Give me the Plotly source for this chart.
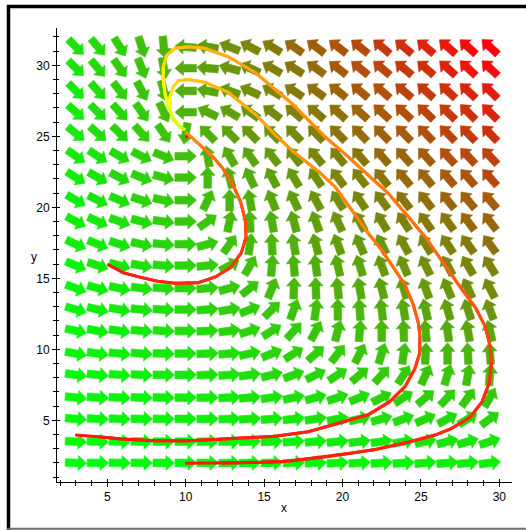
import math
import colorsys
import plotly.graph_objects as go

# ---------------- data ----------------
# arrow grid (centres)
x_cols = [3.0, 4.4, 5.8, 7.2, 8.6, 10.0, 11.4, 12.8, 14.1, 15.5,
          16.9, 18.3, 19.7, 21.1, 22.5, 23.9, 25.3, 26.7, 28.0, 29.4]
y_rows = [2.0, 3.5, 5.1, 6.6, 8.2, 9.7, 11.3, 12.8, 14.3, 15.9,
          17.4, 19.0, 20.5, 22.1, 23.6, 25.2, 26.7, 28.2, 29.8, 31.3]

# arrow directions (degrees on screen, 0 = right, 90 = up), one list per row
ang_r19 = [-45, -50, -58, -72, -85, 175, 170, 158, 152, 148, 145, 143, 142, 141, 140, 140, 140, 139, 138, 137]
ang_r18 = [-45, -50, -55, -68, -80, 180, 175, 165, 155, 150, 147, 144, 142, 141, 140, 140, 139, 138, 137, 137]
ang_r17 = [-45, -48, -52, -62, -75, 180, 170, 160, 155, 150, 146, 143, 141, 140, 139, 139, 138, 137, 137, 136]
ang_r16 = [-42, -45, -48, -55, -65, 180, 155, 150, 145, 143, 140, 139, 138, 138, 137, 137, 136, 136, 135, 135]
ang_r15 = [-40, -42, -45, -48, -55, -100, 135, 135, 135, 135, 134, 134, 134, 134, 134, 134, 134, 134, 134, 134]
ang_r14 = [-35, -33, -30, -27, -22, 0, 100, 120, 125, 128, 128, 130, 130, 131, 131, 132, 132, 133, 133, 133]
ang_r13 = [-32, -30, -27, -22, -15, 0, 90, 105, 115, 118, 120, 124, 127, 128, 129, 130, 130, 131, 131, 132]
ang_r12 = [-30, -27, -23, -18, -12, 0, 65, 90, 100, 112, 115, 118, 122, 124, 126, 127, 128, 129, 130, 130]
ang_r11 = [-28, -25, -20, -15, -8, 0, 35, 78, 92, 100, 105, 110, 115, 118, 121, 123, 125, 126, 127, 128]
ang_r10 = [-25, -22, -18, -12, -5, 0, 15, 55, 82, 93, 100, 105, 110, 113, 116, 119, 121, 123, 125, 126]
ang_r09 = [-22, -18, -15, -10, -5, 0, 6, 28, 60, 85, 95, 98, 103, 107, 110, 113, 116, 118, 120, 122]
ang_r08 = [-20, -16, -12, -8, -4, 0, 5, 15, 38, 68, 88, 92, 96, 100, 104, 107, 110, 113, 115, 117]
ang_r07 = [-16, -13, -10, -6, -3, 0, 4, 10, 22, 45, 70, 82, 90, 94, 97, 100, 103, 106, 108, 110]
ang_r06 = [-12, -10, -8, -5, -3, 0, 3, 8, 18, 32, 48, 62, 75, 85, 90, 92, 95, 98, 100, 103]
ang_r05 = [-10, -8, -6, -4, -2, 0, 2, 5, 12, 22, 32, 42, 52, 63, 73, 82, 87, 90, 93, 95]
ang_r04 = [-8, -6, -5, -3, -1, 0, 2, 4, 8, 14, 20, 26, 33, 40, 48, 57, 65, 73, 80, 85]
ang_r03 = [-6, -4, -3, -2, -1, 0, 1, 3, 5, 8, 12, 15, 18, 22, 27, 33, 40, 47, 54, 60]
ang_r02 = [-4, -3, -2, -1, -1, 0, 1, 2, 3, 5, 7, 9, 11, 13, 16, 20, 24, 28, 32, 36]
ang_r01 = [-3, -2, -2, -1, 0, 0, 1, 1, 2, 3, 4, 5, 6, 7, 8, 10, 12, 14, 16, 18]
ang_r00 = [-2, -1, -1, -1, 0, 0, 0, 1, 1, 1, 2, 2, 3, 3, 4, 4, 5, 5, 6, 7]

# solution curves
curve_a_x = [5.0, 6.0, 7.0, 8.2, 9.3, 10.8, 11.9, 12.9, 13.55, 13.85, 13.8, 13.5, 13.0, 12.4, 11.7, 10.9, 10.3, 10.0]
curve_a_y = [16.0, 15.4, 15.1, 14.8, 14.65, 14.69, 15.1, 15.8, 16.8, 17.9, 19.1, 20.4, 21.6, 22.7, 23.6, 24.4, 25.0, 25.3]

curve_b_x = [2.95, 4.43, 5.92, 8.04, 10.17, 12.3, 14.42, 15.7, 17.82, 19.95, 21.65, 23.0, 24.0, 24.6, 24.92,
             24.94, 24.85, 24.5, 23.95, 23.35, 22.5, 21.65, 20.59, 19.52, 18.5, 17.0, 15.8, 14.5, 12.72,
             11.23, 10.17, 9.53, 9.21, 9.0, 9.0, 9.21, 9.64, 9.96]
curve_b_y = [3.96, 3.85, 3.68, 3.56, 3.56, 3.66, 3.8, 3.88, 4.2, 4.85, 5.4, 6.3, 7.4, 8.6, 9.7,
             10.9, 11.8, 13.2, 14.6, 15.6, 16.99, 18.17, 19.81, 21.45, 22.5, 23.8, 25.0, 26.5, 28.1,
             28.8, 29.0, 28.92, 28.5, 27.8, 26.85, 26.15, 25.68, 25.44]

curve_c_x = [9.96, 12.3, 14.42, 16.33, 18.99, 20.5, 22.1, 24.3, 25.9, 26.9, 28.13, 28.9, 29.35, 29.5, 29.4,
             29.1, 28.5, 27.5, 26.3, 25.26, 24.2, 22.92, 21.9, 20.37, 18.88, 17.82, 16.76, 15.7, 14.42,
             12.72, 11.23, 10.17, 9.32, 8.79, 8.57, 8.57, 8.68, 8.89, 9.21, 9.64, 9.96]
curve_c_y = [1.97, 1.97, 2.02, 2.1, 2.44, 2.68, 2.95, 3.49, 3.96, 4.4, 5.2, 6.3, 7.6, 9.0, 10.3,
             11.6, 12.9, 14.4, 16.3, 17.93, 19.34, 20.99, 22.0, 23.56, 24.97, 26.15, 27.32, 28.3, 29.5,
             30.6, 31.2, 31.3, 31.2, 30.72, 29.9, 28.96, 28.03, 27.08, 26.27, 25.68, 25.44]

rest_point_x = [10.06]
rest_point_y = [24.97]

x_tick_vals = [5, 10, 15, 20, 25, 30]
y_tick_vals = [5, 10, 15, 20, 25, 30]

# ---------------- geometry / style ----------------
W, H = 526, 530
ML, MR, MT, MB = 57, 14, 28, 48
X0, X1 = 1.792, 30.81
Y0, Y1 = 0.655, 32.63
PW, PH = W - ML - MR, H - MT - MB
SX, SY = PW / (X1 - X0), PH / (Y1 - Y0)

ARROW_LEN, SHAFT_HW, HEAD_HW, HEAD_LEN = 21.5, 3.8, 7.4, 8.5
N_LEVELS = 48


def px_x(px):
    return (px - ML) / PW


def px_y(py):
    return (H - MB - py) / PH


def level_color(t):
    r = int(round(255 * t))
    g = int(round(255 * (1 - t)))
    return f"rgb({r},{g},12)"


fig = go.Figure()

angle_table = [ang_r00, ang_r01, ang_r02, ang_r03, ang_r04, ang_r05, ang_r06, ang_r07, ang_r08, ang_r09,
               ang_r10, ang_r11, ang_r12, ang_r13, ang_r14, ang_r15, ang_r16, ang_r17, ang_r18, ang_r19]
xy_max = max(x_cols) * max(y_rows)
outline = [(-ARROW_LEN / 2, SHAFT_HW), (ARROW_LEN / 2 - HEAD_LEN, SHAFT_HW),
           (ARROW_LEN / 2 - HEAD_LEN, HEAD_HW), (ARROW_LEN / 2, 0.0),
           (ARROW_LEN / 2 - HEAD_LEN, -HEAD_HW), (ARROW_LEN / 2 - HEAD_LEN, -SHAFT_HW),
           (-ARROW_LEN / 2, -SHAFT_HW)]
groups = {}
for j, yc in enumerate(y_rows):
    for i, xc in enumerate(x_cols):
        th = math.radians(angle_table[j][i])
        ux, uy = math.cos(th), math.sin(th)
        nx, ny = -uy, ux
        xs = [xc + (a * ux + b * nx) / SX for a, b in outline]
        ys = [yc + (a * uy + b * ny) / SY for a, b in outline]
        lev = int(round(xc * yc / xy_max * N_LEVELS))
        gx, gy = groups.setdefault(lev, ([], []))
        gx.extend(xs + [xs[0], None])
        gy.extend(ys + [ys[0], None])

for lev in sorted(groups):
    gx, gy = groups[lev]
    col = level_color(lev / N_LEVELS)
    fig.add_trace(go.Scatter(x=gx, y=gy, mode="lines", fill="toself", fillcolor=col,
                             line=dict(color=col, width=0.6), hoverinfo="skip", showlegend=False))


def hue_at(f, stops):
    for (f0, h0), (f1, h1) in zip(stops[:-1], stops[1:]):
        if f <= f1:
            return h0 + (h1 - h0) * (f - f0) / (f1 - f0)
    return stops[-1][1]


def add_curve(xs, ys, stops):
    n = len(xs)
    for k in range(n - 1):
        f = k / (n - 2)
        h = hue_at(f, stops)
        r, g, b = colorsys.hls_to_rgb(h / 360.0, 0.53, 1.0)
        col = f"rgb({int(r*255)},{int(g*255)},{int(b*255)})"
        end = min(k + 3, n)
        fig.add_trace(go.Scatter(x=xs[k:end], y=ys[k:end], mode="lines",
                                 line=dict(color=col, width=3), hoverinfo="skip", showlegend=False))


add_curve(curve_a_x, curve_a_y, [(0, 2), (0.45, 10), (0.7, 20), (1.0, 32)])
add_curve(curve_b_x, curve_b_y, [(0, 2), (0.3, 6), (0.45, 20), (0.7, 35), (0.85, 48), (1.0, 72)])
add_curve(curve_c_x, curve_c_y, [(0, 2), (0.3, 8), (0.45, 22), (0.7, 36), (0.82, 46), (1.0, 74)])

fig.add_trace(go.Scatter(x=rest_point_x, y=rest_point_y, mode="markers",
                         marker=dict(color="rgb(255,0,0)", size=3), hoverinfo="skip", showlegend=False))

# dummy trace for overlaid tick axes
fig.add_trace(go.Scatter(x=[X0], y=[Y0], xaxis="x2", yaxis="y2", mode="markers",
                         marker=dict(size=1, opacity=0), hoverinfo="skip", showlegend=False))

font = dict(family="Liberation Sans, Arial, sans-serif", size=12, color="black")
common_axis = dict(showgrid=False, zeroline=False, showline=True, linecolor="black", linewidth=1)

fig.update_layout(
    width=W, height=H,
    margin=dict(l=ML, r=MR, t=MT, b=MB, pad=0),
    paper_bgcolor="white", plot_bgcolor="white",
    font=font, hovermode=False, showlegend=False,
    xaxis=dict(range=[X0, X1], tickvals=x_tick_vals, ticks="outside", ticklen=4, tickcolor="black",
               minor=dict(ticks="outside", ticklen=3, tick0=0, dtick=1, tickcolor="black"),
               tickfont=font, **common_axis),
    yaxis=dict(range=[Y0, Y1], tickvals=y_tick_vals, ticks="outside", ticklen=4, tickcolor="black",
               minor=dict(ticks="outside", ticklen=3, tick0=0, dtick=1, tickcolor="black"),
               tickfont=font, **common_axis),
    xaxis2=dict(range=[X0, X1], overlaying="x", side="bottom", anchor="y2", tickvals=x_tick_vals,
                ticks="inside", ticklen=3, tickcolor="black", showticklabels=False,
                minor=dict(ticks="inside", ticklen=2, tick0=0, dtick=1, tickcolor="black"),
                showgrid=False, zeroline=False, showline=False),
    yaxis2=dict(range=[Y0, Y1], overlaying="y", side="left", anchor="x2", tickvals=y_tick_vals,
                ticks="inside", ticklen=3, tickcolor="black", showticklabels=False,
                minor=dict(ticks="inside", ticklen=2, tick0=0, dtick=1, tickcolor="black"),
                showgrid=False, zeroline=False, showline=False),
)

fig.add_annotation(x=px_x(283.5), y=px_y(508), xref="paper", yref="paper", text="x",
                   showarrow=False, font=font, xanchor="center", yanchor="middle")
fig.add_annotation(x=px_x(33.5), y=px_y(257), xref="paper", yref="paper", text="y",
                   showarrow=False, font=font, xanchor="center", yanchor="middle")

# outer frame (black top/left, grey bottom)
fig.add_shape(type="line", xref="paper", yref="paper", x0=px_x(8.5), x1=px_x(8.5), y0=px_y(5), y1=px_y(530),
              line=dict(color="black", width=3.5))
fig.add_shape(type="line", xref="paper", yref="paper", x0=px_x(7), x1=px_x(526), y0=px_y(6.5), y1=px_y(6.5),
              line=dict(color="black", width=3.5))
fig.add_shape(type="line", xref="paper", yref="paper", x0=px_x(7), x1=px_x(526), y0=px_y(528.8), y1=px_y(528.8),
              line=dict(color="rgb(110,110,110)", width=2))

fig.write_html("out.html", config={"displayModeBar": False, "staticPlot": True},
               post_script="document.body.style.margin='0px';document.body.style.overflow='hidden';")
